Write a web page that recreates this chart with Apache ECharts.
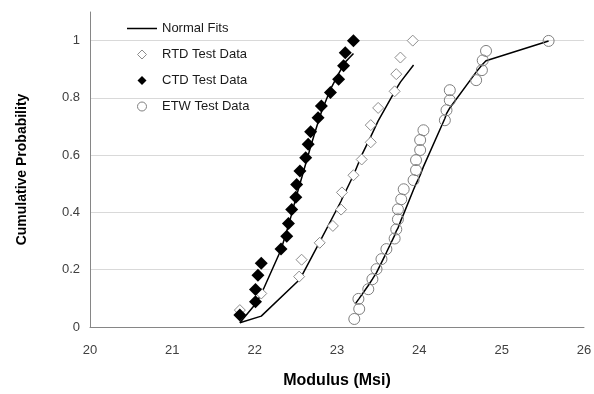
<!DOCTYPE html>
<html><head><meta charset="utf-8">
<script src="https://cdn.jsdelivr.net/npm/echarts@6/dist/echarts.min.js"></script>
<style>html,body{margin:0;padding:0;background:#fff}#c{width:594px;height:394px}</style>
</head><body><div id="c"></div>
<script>
// RTD test data
const rtdX = [21.82,22.08,22.54,22.57,22.79,22.95,23.05,23.06,23.20,23.30,23.41,23.41,23.50,23.70,23.72,23.77,23.92];
const rtdY = [0.059,0.117,0.176,0.235,0.294,0.353,0.41,0.47,0.53,0.585,0.645,0.705,0.765,0.823,0.883,0.941,1.0];
// CTD test data
const ctdX = [21.82,22.01,22.01,22.04,22.08,22.32,22.39,22.41,22.45,22.50,22.51,22.55,22.62,22.65,22.68,22.77,22.81,22.92,23.02,23.08,23.10,23.20];
const ctdY = [0.042,0.088,0.131,0.181,0.223,0.272,0.317,0.361,0.410,0.453,0.498,0.545,0.591,0.638,0.682,0.731,0.772,0.819,0.865,0.912,0.958,1.0];
// ETW test data
const etwX = [23.21,23.27,23.26,23.38,23.43,23.48,23.54,23.60,23.70,23.72,23.74,23.74,23.78,23.81,23.93,23.96,23.96,24.01,24.01,24.05,24.31,24.33,24.37,24.37,24.69,24.76,24.77,24.81,25.57];
const etwY = [0.028,0.063,0.098,0.132,0.167,0.202,0.237,0.272,0.309,0.341,0.376,0.411,0.446,0.481,0.513,0.548,0.583,0.618,0.653,0.687,0.722,0.757,0.792,0.827,0.862,0.897,0.931,0.964,0.999];
// Normal fit curves
const rtdFitX = [21.82,22.08,22.54,22.57,22.79,22.95,23.05,23.06,23.20,23.30,23.41,23.50,23.70,23.72,23.77,23.93];
const rtdFitY = [0.015,0.038,0.164,0.178,0.297,0.385,0.44,0.447,0.53,0.60,0.665,0.72,0.822,0.832,0.855,0.915];
const ctdFitX = [21.82,22.01,22.04,22.08,22.32,22.39,22.41,22.45,22.50,22.51,22.55,22.62,22.65,22.68,22.77,22.81,22.92,23.02,23.08,23.10,23.20];
const ctdFitY = [0.015,0.08,0.095,0.115,0.27,0.335,0.355,0.395,0.45,0.46,0.50,0.57,0.60,0.63,0.715,0.75,0.83,0.885,0.915,0.925,0.955];
const etwFitX = [23.22,23.27,23.38,23.43,23.48,23.54,23.60,23.70,23.72,23.74,23.78,23.81,23.93,23.96,24.01,24.05,24.31,24.33,24.37,24.69,24.76,24.77,24.81,25.57];
const etwFitY = [0.08,0.10,0.145,0.167,0.19,0.225,0.26,0.32,0.335,0.345,0.375,0.395,0.48,0.50,0.53,0.56,0.728,0.745,0.765,0.89,0.915,0.92,0.93,0.999];
const xTicks = [20,21,22,23,24,25,26];
const yTicks = [0,0.2,0.4,0.6,0.8,1];

const zip = (a,b) => a.map((v,i)=>[v,b[i]]);
const font = "'Liberation Sans', Arial, sans-serif";
const chart = echarts.init(document.getElementById('c'), null, {renderer:'canvas'});
const fitLine = (d) => ({name:'Normal Fits', type:'line', data:d, symbol:'none', showSymbol:false,
  lineStyle:{color:'#000', width:1.5}, itemStyle:{color:'#000'}, z:2});
chart.setOption({
  animation:false,
  textStyle:{fontFamily:font},
  grid:{left:90, right:10, top:12, bottom:67, containLabel:false, outerBoundsMode:'none'},
  legend:{
    orient:'vertical', left:122, top:17, itemWidth:30, itemHeight:9, itemGap:13,
    symbolKeepAspect:true,
    textStyle:{fontFamily:font, fontSize:13, color:'#1a1a1a'},
    data:[
      {name:'Normal Fits', icon:'path://M0 0H30V1.5H0Z', itemStyle:{color:'#000'}},
      {name:'RTD Test Data', icon:'path://M5 0L10 5L5 10L0 5Z', itemStyle:{color:'#fff', borderColor:'#8c8c8c', borderWidth:1}},
      {name:'CTD Test Data', icon:'path://M5 0L10 5L5 10L0 5Z', itemStyle:{color:'#000', borderColor:'#000', borderWidth:0}},
      {name:'ETW Test Data', icon:'path://M0 5A5 5 0 1 0 10 5A5 5 0 1 0 0 5Z', itemStyle:{color:'#fff', borderColor:'#7f7f7f', borderWidth:1}}
    ]
  },
  xAxis:{
    type:'value', min:xTicks[0], max:xTicks[xTicks.length-1], interval:1,
    name:'Modulus (Msi)', nameLocation:'middle', nameGap:46,
    nameTextStyle:{fontFamily:font, fontSize:16, fontWeight:'bold', color:'#000'},
    axisLine:{show:true, lineStyle:{color:'#868686', width:1}},
    axisTick:{show:false},
    axisLabel:{fontFamily:font, fontSize:13, color:'#404040', margin:17},
    splitLine:{show:false}
  },
  yAxis:{
    type:'value', min:0, max:1.1, interval:0.2,
    name:'Cumulative Probability', nameLocation:'middle', nameGap:61,
    nameTextStyle:{fontFamily:font, fontSize:14, fontWeight:'bold', color:'#000'},
    axisLine:{show:true, lineStyle:{color:'#868686', width:1}},
    axisTick:{show:false},
    axisLabel:{fontFamily:font, fontSize:13, color:'#404040', margin:10, showMaxLabel:false,
      formatter:(v)=> yTicks.some(t=>Math.abs(t-v)<1e-9) ? String(+v.toFixed(1)) : ''},
    splitLine:{show:true, showMaxLine:false, lineStyle:{color:'#d9d9d9', width:1}}
  },
  series:[
    fitLine(zip(rtdFitX, rtdFitY)),
    fitLine(zip(ctdFitX, ctdFitY)),
    fitLine(zip(etwFitX, etwFitY)),
    {name:'RTD Test Data', type:'scatter', data:zip(rtdX, rtdY), symbol:'diamond', symbolSize:11,
     itemStyle:{color:'#fff', borderColor:'#8c8c8c', borderWidth:1, opacity:1}, z:3},
    {name:'CTD Test Data', type:'scatter', data:zip(ctdX, ctdY), symbol:'diamond', symbolSize:13,
     itemStyle:{color:'#000', borderColor:'#000', borderWidth:0, opacity:1}, z:4},
    {name:'ETW Test Data', type:'scatter', data:zip(etwX, etwY), symbol:'circle', symbolSize:11,
     itemStyle:{color:'rgba(255,255,255,0)', borderColor:'#7f7f7f', borderWidth:1, opacity:1}, z:3}
  ]
});
</script></body></html>
